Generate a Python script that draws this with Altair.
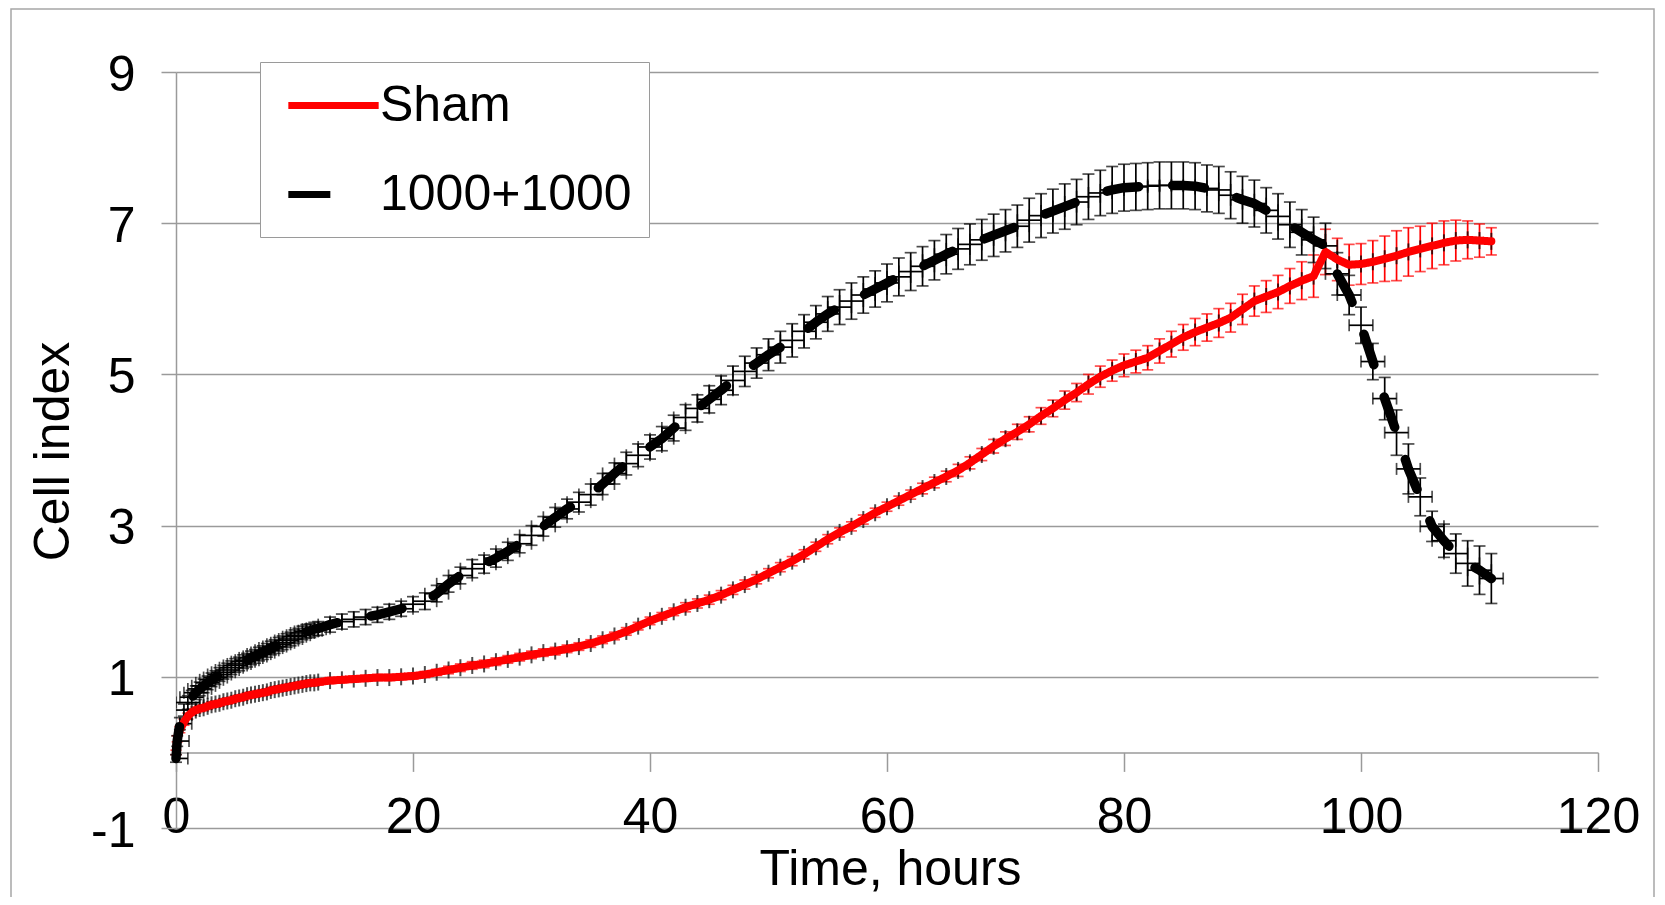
import altair as alt
import pandas as pd

# ---------------- data ----------------
HOURS = [0.0, 0.1, 0.33, 0.67, 1.0, 1.33, 1.67, 2.0, 2.33, 2.67, 3.0, 3.33, 3.67,
         4.0, 4.33, 4.67, 5.0, 5.33, 5.67, 6.0, 6.33, 6.67, 7.0, 7.33, 7.67, 8.0,
         8.33, 8.67, 9.0, 9.33, 9.67, 10.0, 10.33, 10.67, 11.0, 11.33, 11.67, 12.0,
         13, 14, 15, 16, 17, 18, 19, 20, 21, 22,
         23, 24, 25, 26, 27, 28, 29, 30, 31, 32,
         33, 34, 35, 36, 37, 38, 39, 40, 41, 42,
         43, 44, 45, 46, 47, 48, 49, 50, 51, 52,
         53, 54, 55, 56, 57, 58, 59, 60, 61, 62,
         63, 64, 65, 66, 67, 68, 69, 70, 71, 72,
         73, 74, 75, 76, 77, 78, 79, 80, 81, 82,
         83, 84, 85, 86, 87, 88, 89, 90, 91, 92,
         93, 94, 95, 96, 97, 98, 99, 100, 101, 102,
         103, 104, 105, 106, 107, 108, 109, 110, 111]

SHAM = [0.00, 0.18, 0.30, 0.40, 0.48, 0.53, 0.56, 0.58, 0.59, 0.61, 0.63, 0.64, 0.65,
        0.67, 0.68, 0.69, 0.71, 0.72, 0.73, 0.75, 0.76, 0.77, 0.78, 0.79, 0.80, 0.82,
        0.83, 0.84, 0.85, 0.86, 0.87, 0.88, 0.89, 0.90, 0.91, 0.92, 0.92, 0.93,
        0.95, 0.96, 0.97, 0.98, 0.99, 0.99, 1.00, 1.01, 1.03, 1.06,
        1.09, 1.12, 1.15, 1.17, 1.20, 1.23, 1.26, 1.29, 1.32, 1.34,
        1.37, 1.40, 1.44, 1.49, 1.54, 1.60, 1.67, 1.74, 1.80, 1.86,
        1.92, 1.97, 2.02, 2.08, 2.15, 2.22, 2.29, 2.37, 2.45, 2.53,
        2.62, 2.72, 2.82, 2.91, 2.99, 3.08, 3.17, 3.25, 3.33, 3.41,
        3.49, 3.57, 3.65, 3.73, 3.83, 3.94, 4.05, 4.15, 4.24, 4.34,
        4.45, 4.55, 4.66, 4.76, 4.87, 4.97, 5.05, 5.12, 5.17, 5.22,
        5.31, 5.40, 5.49, 5.56, 5.62, 5.68, 5.75, 5.86, 5.97, 6.03,
        6.09, 6.17, 6.24, 6.30, 6.62, 6.52, 6.45, 6.46, 6.49, 6.53,
        6.57, 6.62, 6.66, 6.70, 6.74, 6.77, 6.78, 6.77, 6.76]

SHAM_ERR = [0.03, 0.04, 0.04, 0.04, 0.04, 0.04, 0.04, 0.04, 0.04, 0.04, 0.04, 0.04, 0.04,
            0.04, 0.04, 0.04, 0.04, 0.04, 0.04, 0.04, 0.04, 0.04, 0.04, 0.04, 0.04, 0.04,
            0.04, 0.04, 0.04, 0.04, 0.04, 0.04, 0.04, 0.04, 0.04, 0.04, 0.04, 0.04,
            0.04, 0.04, 0.04, 0.04, 0.04, 0.04, 0.04, 0.04, 0.04, 0.04,
            0.05, 0.05, 0.05, 0.05, 0.05, 0.05, 0.05, 0.05, 0.05, 0.05,
            0.05, 0.05, 0.05, 0.05, 0.05, 0.05, 0.05, 0.05, 0.05, 0.05,
            0.06, 0.06, 0.06, 0.06, 0.06, 0.06, 0.06, 0.06, 0.06, 0.06,
            0.06, 0.06, 0.06, 0.06, 0.06, 0.06, 0.06, 0.06, 0.06, 0.06,
            0.07, 0.07, 0.07, 0.08, 0.08, 0.08, 0.09, 0.09, 0.10, 0.10,
            0.11, 0.11, 0.12, 0.12, 0.13, 0.14, 0.14, 0.15, 0.15, 0.16,
            0.16, 0.17, 0.17, 0.18, 0.18, 0.19, 0.19, 0.20, 0.20, 0.21,
            0.22, 0.23, 0.25, 0.28, 0.30, 0.28, 0.27, 0.27, 0.28, 0.30,
            0.33, 0.32, 0.30, 0.30, 0.29, 0.27, 0.25, 0.22, 0.18]

TREAT = [-0.08, 0.15, 0.38, 0.56, 0.66, 0.73, 0.79, 0.84, 0.88, 0.92, 0.96, 0.99, 1.03,
         1.06, 1.09, 1.12, 1.15, 1.17, 1.20, 1.22, 1.25, 1.27, 1.30, 1.32, 1.35, 1.38,
         1.40, 1.43, 1.45, 1.48, 1.50, 1.53, 1.55, 1.58, 1.60, 1.61, 1.63, 1.64,
         1.69, 1.73, 1.76, 1.79, 1.82, 1.86, 1.90, 1.96, 2.00, 2.10,
         2.23, 2.34, 2.43, 2.49, 2.57, 2.66, 2.76, 2.87, 2.99, 3.11,
         3.22, 3.31, 3.41, 3.55, 3.69, 3.82, 3.93, 4.04, 4.15, 4.29,
         4.43, 4.55, 4.67, 4.79, 4.92, 5.04, 5.15, 5.26, 5.36, 5.45,
         5.57, 5.69, 5.80, 5.89, 5.97, 6.05, 6.13, 6.21, 6.29, 6.36,
         6.43, 6.51, 6.59, 6.66, 6.72, 6.78, 6.84, 6.90, 6.96, 7.04,
         7.10, 7.16, 7.22, 7.28, 7.35, 7.40, 7.44, 7.47, 7.48, 7.49,
         7.50, 7.50, 7.50, 7.49, 7.46, 7.44, 7.37, 7.31, 7.26, 7.17,
         7.09, 6.98, 6.88, 6.78, 6.70, 6.33, 6.05, 5.65, 5.17, 4.68,
         4.23, 3.75, 3.38, 2.99, 2.80, 2.63, 2.50, 2.41, 2.30]

TREAT_ERR = [0.05, 0.07, 0.08, 0.08, 0.09, 0.09, 0.09, 0.09, 0.09, 0.09, 0.09, 0.09, 0.09,
             0.09, 0.09, 0.09, 0.09, 0.09, 0.09, 0.09, 0.09, 0.09, 0.09, 0.09, 0.09, 0.09,
             0.09, 0.09, 0.09, 0.09, 0.09, 0.09, 0.09, 0.09, 0.09, 0.09, 0.09, 0.09,
             0.10, 0.10, 0.10, 0.10, 0.10, 0.10, 0.10, 0.10, 0.11, 0.11,
             0.11, 0.11, 0.12, 0.12, 0.12, 0.12, 0.12, 0.13, 0.13, 0.13,
             0.13, 0.13, 0.14, 0.14, 0.14, 0.15, 0.15, 0.16, 0.16, 0.17,
             0.17, 0.18, 0.18, 0.19, 0.19, 0.20, 0.20, 0.21, 0.21, 0.22,
             0.22, 0.22, 0.23, 0.23, 0.24, 0.24, 0.24, 0.25, 0.25, 0.25,
             0.26, 0.26, 0.26, 0.27, 0.27, 0.27, 0.28, 0.28, 0.28, 0.29,
             0.29, 0.29, 0.30, 0.30, 0.30, 0.30, 0.31, 0.31, 0.31, 0.31,
             0.31, 0.31, 0.31, 0.31, 0.31, 0.31, 0.31, 0.31, 0.31, 0.30,
             0.30, 0.30, 0.30, 0.30, 0.30, 0.28, 0.26, 0.24, 0.24, 0.28,
             0.30, 0.33, 0.25, 0.20, 0.22, 0.26, 0.30, 0.32, 0.33]

X_ERR = 1.0  # horizontal error, hours
SERIES = ["Sham", "1000+1000"]
COLORS = ["#ff0000", "#000000"]
X_TICKS = [0, 20, 40, 60, 80, 100, 120]
Y_TICKS = [-1, 1, 3, 5, 7, 9]


def make_df(name, vals, errs):
    d = pd.DataFrame({"series": name, "t": HOURS, "v": vals, "err": errs})
    d["lo"] = d["v"] - d["err"]
    d["hi"] = d["v"] + d["err"]
    d["tlo"] = d["t"] - X_ERR
    d["thi"] = d["t"] + X_ERR
    return d


sham = make_df("Sham", SHAM, SHAM_ERR)
treat = make_df("1000+1000", TREAT, TREAT_ERR)

# ---------------- styling ----------------
FONT = "Liberation Sans"
GRID = "#9a9a9a"
W, H = 1422, 756
EB_W = 1.7    # error bar line width
CAP = 12      # error bar cap length

x_scale = alt.Scale(domain=[0, 120], nice=False, zero=False)
y_scale = alt.Scale(domain=[-1, 9], nice=False, zero=False)

x_axis = alt.Axis(values=X_TICKS, offset=-75.6, grid=False, tickSize=19, tickColor=GRID,
                  tickWidth=1.5, domainColor=GRID, domainWidth=1.5, labelPadding=21,
                  labelFontSize=50, labelFlush=False, labelOverlap=False,
                  labelExpr="'' + datum.value", titleFontSize=50, titleX=714, titleY=132,
                  titleAlign="center", titleBaseline="alphabetic")
y_axis = alt.Axis(values=Y_TICKS, grid=True, gridColor=GRID, gridWidth=1.5, tickSize=15,
                  tickColor=GRID, tickWidth=1.5, domainColor=GRID, domainWidth=1.5,
                  labelPadding=26, labelFontSize=50, labelBaseline="alphabetic",
                  labelOffset=18, labelFlush=False, labelOverlap=False,
                  labelExpr="'' + datum.value", titleFontSize=50, titleX=-108, titleY=379,
                  titleAngle=-90, titleAlign="center", titleBaseline="alphabetic")


def X(field):
    return alt.X(f"{field}:Q", scale=x_scale, axis=x_axis, title="Time, hours")


def Y(field):
    return alt.Y(f"{field}:Q", scale=y_scale, axis=y_axis, title="Cell index")


legend = alt.Legend(
    title=None, orient="none", legendX=84, legendY=-10,
    symbolType="M-2,0H2", symbolSize=2040, symbolStrokeWidth=7,
    labelFontSize=50, labelFont=FONT, labelColor="black", labelOffset=20, labelLimit=500,
    symbolOffset=30, padding=17, rowPadding=37,
    strokeColor=GRID, fillColor="white", cornerRadius=0,
)
color = alt.Color("series:N", scale=alt.Scale(domain=SERIES, range=COLORS), legend=legend)
dash = alt.StrokeDash("series:N", scale=alt.Scale(domain=SERIES, range=[[1, 0], [42, 300]]),
                      legend=legend)

frame = alt.Chart(alt.Data(values=[{"a": 1}])).mark_rect(
    fillOpacity=0, stroke="#a6a6a6", strokeWidth=1.5
).encode(x=alt.value(-165), x2=alt.value(1478), y=alt.value(-63), y2=alt.value(900))

# Sham error bars
sham_rule = alt.Chart(sham).mark_rule(color=COLORS[0], strokeWidth=EB_W).encode(
    x=X("t"), y=Y("lo"), y2="hi")
sham_cap_lo = alt.Chart(sham).mark_tick(orient="horizontal", color=COLORS[0], size=11,
                                        thickness=EB_W).encode(x=X("t"), y=Y("lo"))
sham_cap_hi = alt.Chart(sham).mark_tick(orient="horizontal", color=COLORS[0], size=11,
                                        thickness=EB_W).encode(x=X("t"), y=Y("hi"))
sham_xtick = alt.Chart(sham).mark_tick(orient="vertical", color="black", size=17,
                                       thickness=2).encode(x=X("t"), y=Y("v"))

# 1000+1000 error bars (x and y)
tr_xrule = alt.Chart(treat).mark_rule(color="black", strokeWidth=EB_W, clip=True).encode(
    x=X("tlo"), x2="thi", y=Y("v"))
tr_xcap_lo = alt.Chart(treat).mark_tick(orient="vertical", color="black", size=CAP,
                                        thickness=EB_W, clip=True).encode(x=X("tlo"), y=Y("v"))
tr_xcap_hi = alt.Chart(treat).mark_tick(orient="vertical", color="black", size=CAP,
                                        thickness=EB_W, clip=True).encode(x=X("thi"), y=Y("v"))
tr_yrule = alt.Chart(treat).mark_rule(color="black", strokeWidth=EB_W).encode(
    x=X("t"), y=Y("lo"), y2="hi")
tr_ycap_lo = alt.Chart(treat).mark_tick(orient="horizontal", color="black", size=CAP,
                                        thickness=EB_W).encode(x=X("t"), y=Y("lo"))
tr_ycap_hi = alt.Chart(treat).mark_tick(orient="horizontal", color="black", size=CAP,
                                        thickness=EB_W).encode(x=X("t"), y=Y("hi"))

sham_line = alt.Chart(sham).mark_line(strokeWidth=8, strokeCap="round",
                                      strokeJoin="round").encode(
    x=X("t"), y=Y("v"), color=color, strokeDash=dash)
treat_line = alt.Chart(treat).mark_line(strokeWidth=9.5, strokeCap="round", strokeJoin="round",
                                        strokeDash=[32, 34]).encode(
    x=X("t"), y=Y("v"), color=color)

chart = alt.layer(
    frame, sham_rule, sham_cap_lo, sham_cap_hi, sham_xtick,
    tr_xrule, tr_xcap_lo, tr_xcap_hi, tr_yrule, tr_ycap_lo, tr_ycap_hi,
    sham_line, treat_line,
).properties(
    width=W, height=H,
    padding={"left": 168, "top": 64, "right": 59, "bottom": 69},
    autosize=alt.AutoSizeParams(type="none"),
    background="white",
).configure_view(stroke=None).configure_axis(
    labelFont=FONT, titleFont=FONT, labelColor="black", titleColor="black",
    titleFontWeight="normal",
).configure_legend(labelFont=FONT)

chart.save("out.html", embed_options={"renderer": "svg", "actions": False})
